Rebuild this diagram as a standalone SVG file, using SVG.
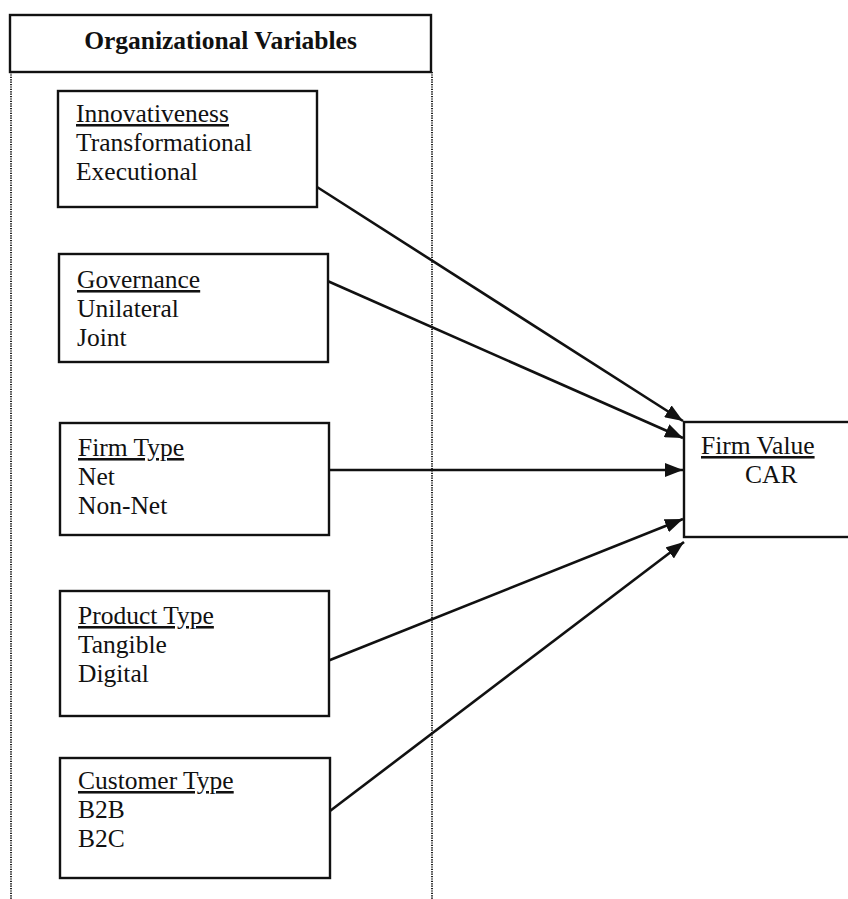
<svg xmlns="http://www.w3.org/2000/svg" width="848" height="899" viewBox="0 0 848 899">
  <defs>
    <marker id="arrow" markerWidth="18" markerHeight="14" refX="18" refY="7" orient="auto" markerUnits="userSpaceOnUse">
      <path d="M0,0 L18,7 L0,14 Z" fill="#111"/>
    </marker>
    <style>
      .box { fill: #fff; stroke: #111; stroke-width: 2.4; }
      .dots { stroke: #222; stroke-width: 2; stroke-dasharray: 1.2 1.2; fill: none; }
      .lbl { font-family: "Liberation Serif", "Times New Roman", serif; font-size: 25.5px; fill: #111; }
      .ttl { font-family: "Liberation Serif", "Times New Roman", serif; font-size: 25.5px; font-weight: bold; fill: #111; }
      .u { text-decoration: underline; }
      .edge { stroke: #111; stroke-width: 2.6; fill: none; marker-end: url(#arrow); }
    </style>
  </defs>
  <rect width="848" height="899" fill="#fff"/>

  <!-- Panel: header and dotted column -->
  <g id="panel">
    <line class="dots" x1="11" y1="72" x2="11" y2="899"/>
    <line class="dots" x1="432" y1="72" x2="432" y2="899"/>
    <rect class="box" x="10" y="15" width="421" height="57"/>
    <text class="ttl" x="220.5" y="49" text-anchor="middle">Organizational Variables</text>
  </g>

  <!-- Connectors -->
  <g id="connectors">
    <line class="edge" x1="317" y1="187" x2="683" y2="421"/>
    <line class="edge" x1="323" y1="279" x2="683" y2="438"/>
    <line class="edge" x1="324" y1="470" x2="683" y2="470"/>
    <line class="edge" x1="325" y1="662" x2="683" y2="519"/>
    <line class="edge" x1="326" y1="814" x2="684" y2="542"/>
  </g>

  <g id="innovativeness">
    <rect class="box" x="58" y="91" width="259" height="116"/>
    <text class="lbl" x="76" y="122"><tspan class="u">Innovativeness</tspan></text>
    <text class="lbl" x="76" y="151">Transformational</text>
    <text class="lbl" x="76" y="180">Executional</text>
  </g>

  <g id="governance">
    <rect class="box" x="59" y="254" width="269" height="108"/>
    <text class="lbl" x="77" y="288"><tspan class="u">Governance</tspan></text>
    <text class="lbl" x="77" y="317">Unilateral</text>
    <text class="lbl" x="77" y="346">Joint</text>
  </g>

  <g id="firm-type">
    <rect class="box" x="60" y="423" width="269" height="112"/>
    <text class="lbl" x="78" y="456"><tspan class="u">Firm Type</tspan></text>
    <text class="lbl" x="78" y="485">Net</text>
    <text class="lbl" x="78" y="514">Non-Net</text>
  </g>

  <g id="product-type">
    <rect class="box" x="60" y="591" width="269" height="125"/>
    <text class="lbl" x="78" y="624"><tspan class="u">Product Type</tspan></text>
    <text class="lbl" x="78" y="653">Tangible</text>
    <text class="lbl" x="78" y="682">Digital</text>
  </g>

  <g id="customer-type">
    <rect class="box" x="60" y="758" width="270" height="120"/>
    <text class="lbl" x="78" y="789"><tspan class="u">Customer Type</tspan></text>
    <text class="lbl" x="78" y="818">B2B</text>
    <text class="lbl" x="78" y="847">B2C</text>
  </g>

  <g id="firm-value">
    <rect class="box" x="684" y="422" width="180" height="115"/>
    <text class="lbl" x="701" y="454"><tspan class="u">Firm Value</tspan></text>
    <text class="lbl" x="745" y="483">CAR</text>
  </g>
</svg>
